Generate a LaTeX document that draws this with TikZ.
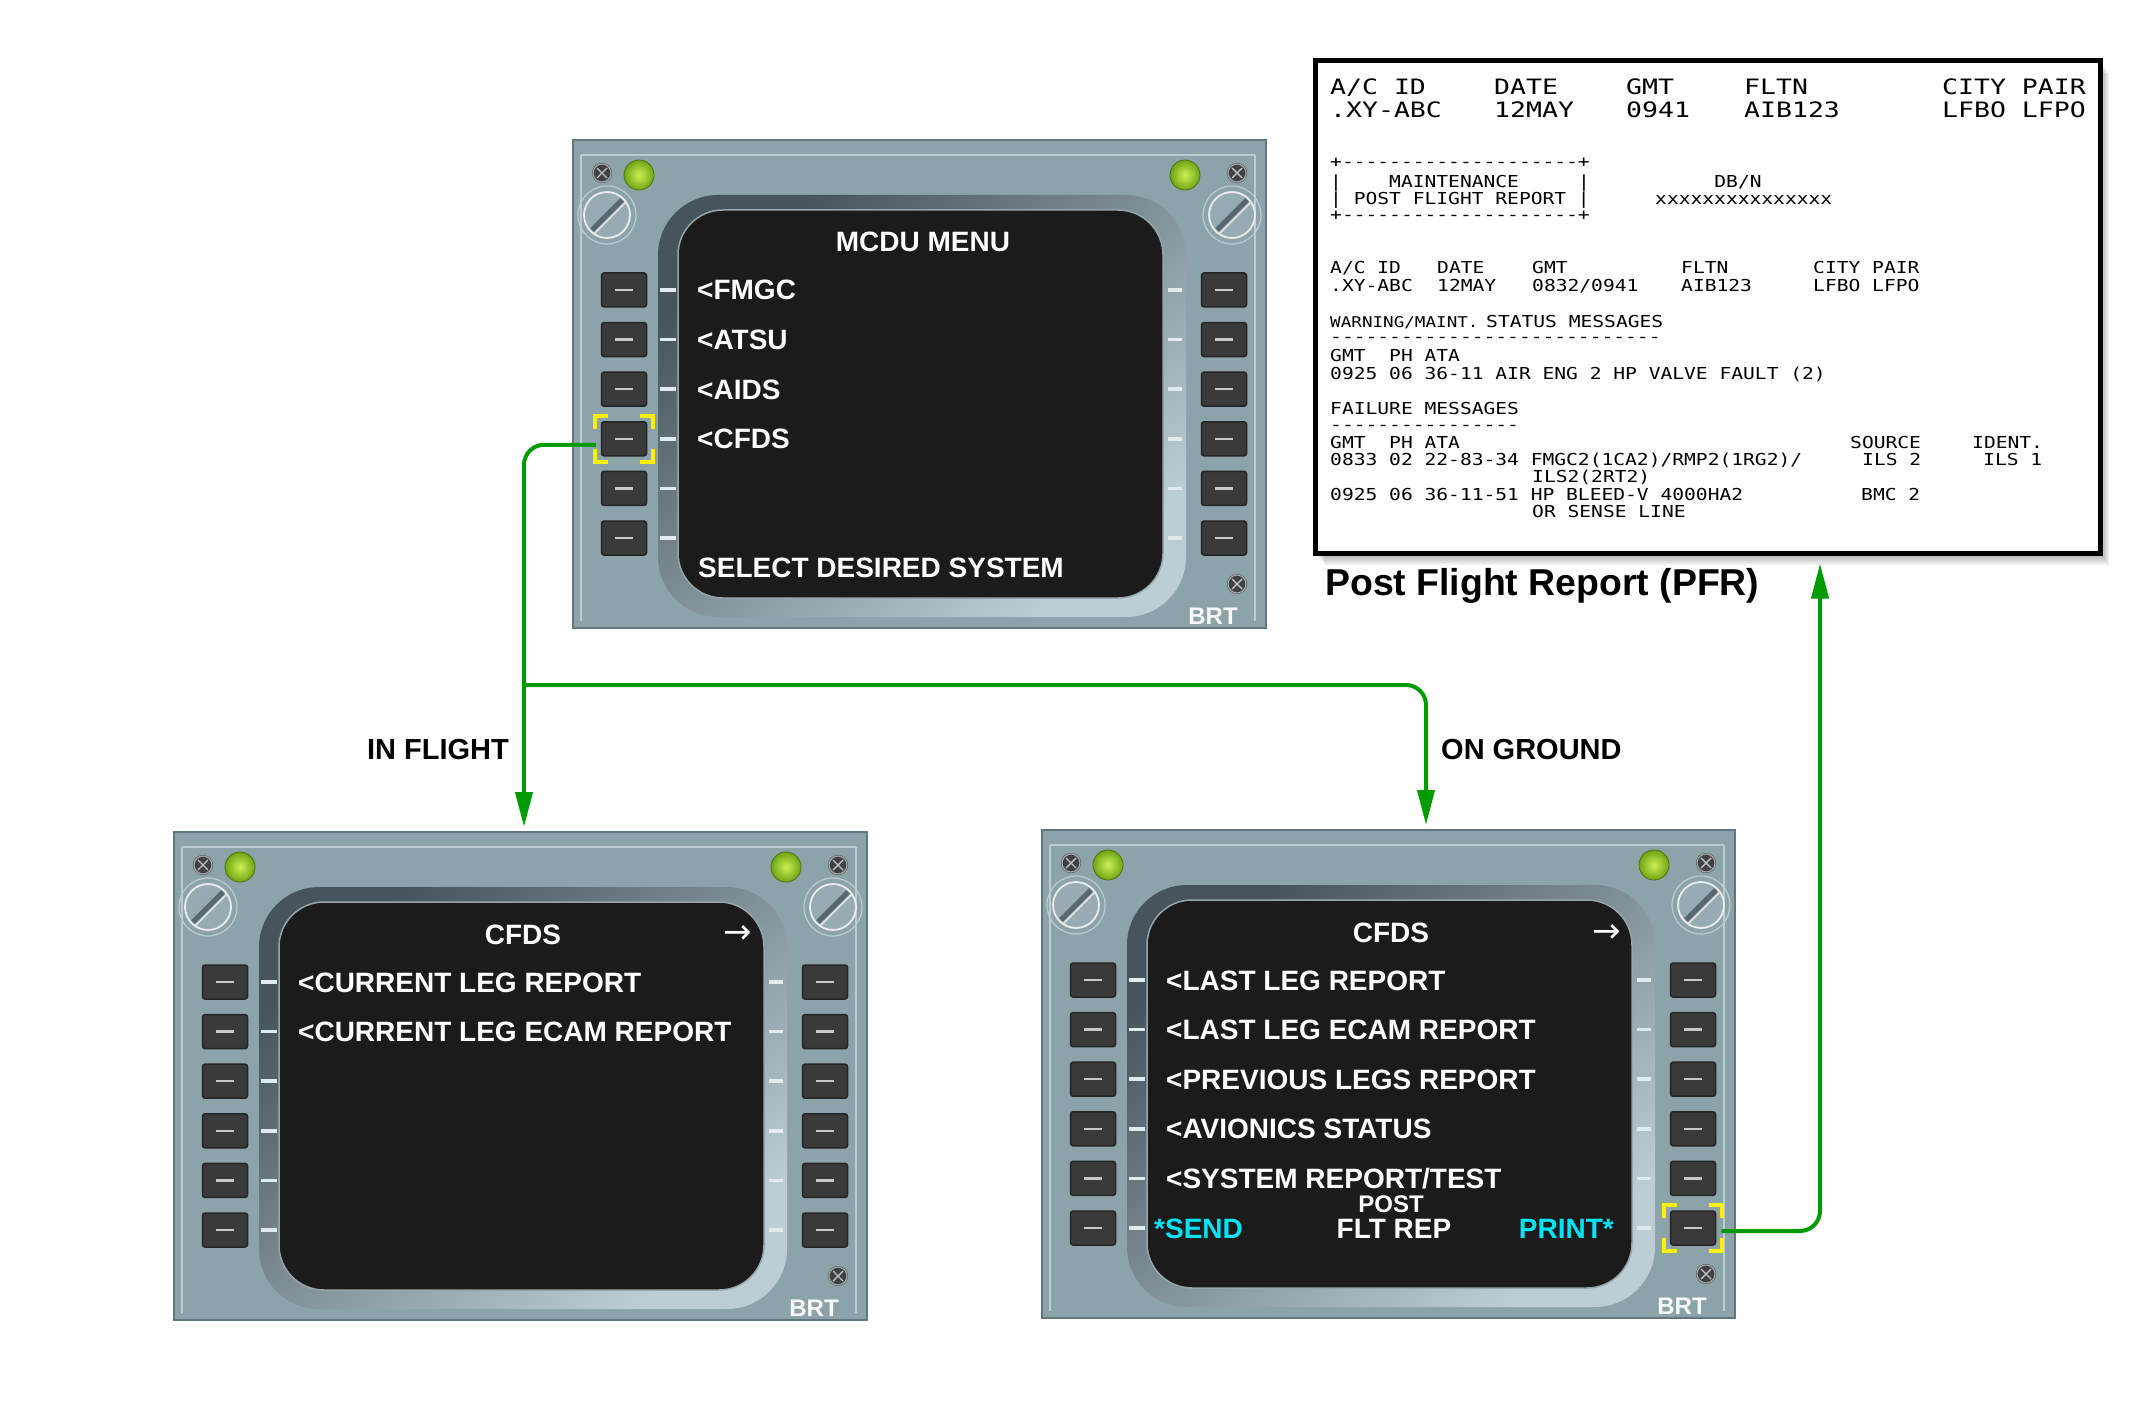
\documentclass[tikz,border=0pt]{standalone}
\usepackage{fontspec}
\setmainfont{Liberation Sans}
\newfontfamily\prt{DejaVu Sans Mono}[Ligatures=TeXOff]
\newfontfamily\djv{DejaVu Sans}
\usetikzlibrary{arrows.meta,calc}
\definecolor{panelc}{RGB}{140,163,170}
\definecolor{panedge}{RGB}{98,118,125}
\definecolor{hl}{RGB}{188,205,210}
\definecolor{bezdark}{RGB}{70,84,91}
\definecolor{bezlight}{RGB}{188,206,212}
\definecolor{scrn}{RGB}{27,27,27}
\definecolor{scrline}{RGB}{150,166,172}
\definecolor{btn}{RGB}{58,58,58}
\definecolor{btnedge}{RGB}{36,36,36}
\definecolor{dashc}{RGB}{200,200,200}
\definecolor{tickc}{RGB}{225,234,237}
\definecolor{lampin}{RGB}{205,240,85}
\definecolor{lampout}{RGB}{110,165,20}
\definecolor{cgreen}{RGB}{0,155,0}
\definecolor{ycol}{RGB}{255,240,0}
\definecolor{cyanc}{RGB}{0,228,245}
\definecolor{screwc}{RGB}{62,66,68}
\definecolor{knobc}{RGB}{150,172,178}
\definecolor{slotc}{RGB}{88,104,110}

\newcommand\pa[1]{\scalebox{1}[0.84]{#1}}
\newcommand\pb[1]{\scalebox{1}[0.8]{#1}}
\newcommand\mscrew[2]{%
  \fill[screwc] (#1,#2) circle[radius=10pt];
  \draw[draw=gray!70, line width=1.2pt] (#1,#2) circle[radius=9pt];
  \draw[draw=gray!50, line width=1.4pt] (#1-5,#2-5) -- (#1+5,#2+5) (#1-5,#2+5) -- (#1+5,#2-5);
}
\newcommand\mlamp[2]{%
  \shade[inner color=lampin, outer color=lampout] (#1,#2) circle[radius=15pt];
  \draw[draw=lampout!70!black, line width=0.8pt] (#1,#2) circle[radius=15pt];
}
\newcommand\mknob[2]{%
  \draw[draw=hl, line width=1.2pt] (#1,#2) circle[radius=29pt];
  \fill[knobc] (#1,#2) circle[radius=23pt];
  \draw[draw=white!85!gray, line width=1.8pt] (#1,#2) circle[radius=23pt];
  \draw[draw=slotc, line width=5pt] (#1-15,#2+15) -- (#1+15,#2-15);
  \draw[draw=white!80!gray, line width=1.5pt] (#1-13,#2+19) -- (#1+19,#2-13);
}
\newcommand\mcduhw[1]{%
  \node[mpanel] (#1panel) at (346.5,244) {};
  \draw[hlline] (8,15) -- (682,15) (8,15) -- (8,481) (682,15) -- (682,481);
  \mscrew{29}{33}\mscrew{664}{33}\mscrew{664}{444}
  \mlamp{66}{35}\mlamp{612}{35}
  \mknob{34}{75}\mknob{659}{75}
  \shade[bezel] (85,55) rectangle (613,477);
  \path[scrnbox] (105,70) rectangle (590,458);
  \foreach \i in {1,...,6}{%
    \pgfmathsetmacro\yy{150+49.6*(\i-1)}
    \node[lsk] (#1L\i) at (51,\yy) {};
    \node[lsk] (#1R\i) at (651,\yy) {};
    \draw[lskdash] (42,\yy) -- (60,\yy);
    \draw[lskdash] (642,\yy) -- (660,\yy);
    \draw[tickm] (87,\yy) -- (103,\yy);
    \draw[tickm] (595,\yy) -- (609,\yy);
  }
  \node[brt] (#1brt) at (640,484) {BRT};
}
\newcommand\ybracket[1]{%
  \path (#1.north west) ++(-6,-5) coordinate (bTL);
  \path (#1.north east) ++(6,-5) coordinate (bTR);
  \path (#1.south west) ++(-6,5) coordinate (bBL);
  \path (#1.south east) ++(6,5) coordinate (bBR);
  \draw[ybr] ($(bTL)+(0,13)$) -- (bTL) -- ($(bTL)+(13,0)$);
  \draw[ybr] ($(bTR)+(0,13)$) -- (bTR) -- ($(bTR)+(-13,0)$);
  \draw[ybr] ($(bBL)+(0,-13)$) -- (bBL) -- ($(bBL)+(13,0)$);
  \draw[ybr] ($(bBR)+(0,-13)$) -- (bBR) -- ($(bBR)+(-13,0)$);
}

\begin{document}
\begin{tikzpicture}[x=1pt,y=-1pt,
  mpanel/.style={draw=panedge, line width=2pt, fill=panelc, minimum width=693pt, minimum height=488pt, inner sep=0pt},
  hlline/.style={draw=hl, line width=1.2pt},
  bezel/.style={rounded corners=60pt, top color=bezdark, bottom color=bezlight, shading angle=40},
  scrnbox/.style={fill=scrn, draw=scrline, line width=1.5pt, rounded corners=45pt},
  lsk/.style={draw=btnedge, fill=btn, line width=1.5pt, minimum width=45pt, minimum height=34pt, inner sep=0pt, rounded corners=2.5pt},
  lskdash/.style={draw=dashc, line width=2.5pt},
  tickm/.style={draw=tickc, line width=3.5pt},
  wire/.style={draw=cgreen, line width=4pt},
  tip/.style={-{Triangle[length=35pt,width=17pt]}},
  ybr/.style={draw=ycol, line width=4pt},
  scr/.style={font=\fontsize{28}{30}\selectfont\bfseries, text=white, inner sep=0pt},
  scrl/.style={scr, anchor=base west},
  brt/.style={font=\fontsize{24}{25}\selectfont\bfseries, text=white!95!gray, anchor=base, inner sep=0pt},
  arr/.style={font=\fontsize{34}{34}\djv, text=white, inner sep=0pt},
  prs/.style={font=\fontsize{19.6}{21}\prt, anchor=base west, inner sep=0pt},
  prc/.style={font=\fontsize{17.6}{19}\prt, anchor=base west, inner sep=0pt},
  prb/.style={font=\fontsize{26.5}{28}\prt, anchor=base west, inner sep=0pt},
  lbl/.style={font=\fontsize{29}{31}\selectfont\bfseries, inner sep=0pt},
  ttl/.style={font=\fontsize{37.4}{40}\selectfont\bfseries, inner sep=0pt, anchor=base west},
  pfrbox/.style={draw=black, line width=5pt, fill=white, minimum width=785pt, minimum height=492pt, inner sep=0pt}
]
\useasboundingbox (0,0) rectangle (2134,1423);
\fill[white] (0,0) rectangle (2134,1423);

% ---------- PFR printout ----------
\foreach \k in {1,...,6}{\fill[black,opacity=0.06] (1315+1.5*\k,61+2*\k) rectangle (2100+1.5*\k,553+2*\k);}
\node[pfrbox] (pfr) at (1707.5,307) {};
\node[prb] (h1) at (1330,95) {\pb{A/C ID}};
\node[prb] (h2) at (1494,95) {\pb{DATE}};
\node[prb] (h3) at (1626,95) {\pb{GMT}};
\node[prb] (h4) at (1744,95) {\pb{FLTN}};
\node[prb] (h5) at (1942,95) {\pb{CITY PAIR}};
\node[prb] (h6) at (1330,118) {\pb{.XY-ABC}};
\node[prb] (h7) at (1494,118) {\pb{12MAY}};
\node[prb] (h8) at (1626,118) {\pb{0941}};
\node[prb] (h9) at (1744,118) {\pb{AIB123}};
\node[prb] (h10) at (1942,118) {\pb{LFBO LFPO}};

\node[prs] (b1) at (1330,168) {\pa{+--------------------+}};
\node[prs] (b2) at (1330,188) {\pa{|~~~~MAINTENANCE~~~~~|}};
\node[prs] (b3) at (1330,205) {\pa{|~POST FLIGHT REPORT~|}};
\node[prs] (b4) at (1330,221) {\pa{+--------------------+}};
\node[prs, anchor=base] (b5) at (1738,188) {\pa{DB/N}};
\node[prs] (b6) at (1655,205) {\pa{xxxxxxxxxxxxxxx}};

\node[prs] (c1) at (1330,274) {\pa{A/C ID}};
\node[prs] (c2) at (1437,274) {\pa{DATE}};
\node[prs] (c3) at (1532,274) {\pa{GMT}};
\node[prs] (c4) at (1681,274) {\pa{FLTN}};
\node[prs] (c5) at (1813,274) {\pa{CITY PAIR}};
\node[prs] (c6) at (1330,292) {\pa{.XY-ABC}};
\node[prs] (c7) at (1437,292) {\pa{12MAY}};
\node[prs] (c8) at (1532,292) {\pa{0832/0941}};
\node[prs] (c9) at (1681,292) {\pa{AIB123}};
\node[prs] (c10) at (1813,292) {\pa{LFBO LFPO}};

\node[prc] (d1) at (1330,327) {\pa{WARNING/MAINT.}};
\node[prs] (d2) at (1486,327) {\pa{STATUS MESSAGES}};
\node[prs] (d3) at (1330,342) {\pa{----------------------------}};
\node[prs] (e1) at (1330,361) {\pa{GMT~~PH~ATA}};
\node[prs] (e2) at (1330,379) {\pa{0925 06 36-11 AIR ENG 2 HP VALVE FAULT (2)}};
\node[prs] (f1) at (1330,414) {\pa{FAILURE MESSAGES}};
\node[prs] (f2) at (1330,430) {\pa{----------------}};
\node[prs] (g1) at (1330,448) {\pa{GMT~~PH~ATA}};
\node[prs] (g2) at (1850,448) {\pa{SOURCE}};
\node[prs] (g3) at (1972,448) {\pa{IDENT.}};
\node[prs] (g4) at (1330,465) {\pa{0833 02 22-83-34 FMGC2(1CA2)/RMP2(1RG2)/}};
\node[prs] (g5) at (1862,465) {\pa{ILS 2}};
\node[prs] (g6) at (1983,465) {\pa{ILS 1}};
\node[prs] (g7) at (1532,482) {\pa{ILS2(2RT2)}};
\node[prs] (g8) at (1330,500) {\pa{0925 06 36-11-51 HP BLEED-V 4000HA2}};
\node[prs] (g9) at (1861,500) {\pa{BMC 2}};
\node[prs] (g10) at (1532,517) {\pa{OR SENSE LINE}};

\node[ttl] (pfrtitle) at (1325,595) {Post Flight Report (PFR)};

% ---------- MCDU MENU ----------
\begin{scope}[shift={(573,140)}]
  \mcduhw{top}
  \node[scr, anchor=base] (topT) at (350,112) {MCDU MENU};
  \node[scrl] (top1) at (124,160) {<FMGC};
  \node[scrl] (top2) at (124,209.6) {<ATSU};
  \node[scrl] (top3) at (124,259.2) {<AIDS};
  \node[scrl] (top4) at (124,308.8) {<CFDS};
  \node[scrl] (top7) at (125,437) {SELECT DESIRED SYSTEM};
\end{scope}

% ---------- CFDS in flight ----------
\begin{scope}[shift={(174,832)}]
  \mcduhw{bl}
  \node[scr, anchor=base] (blT) at (349,112) {CFDS};
  \node[arr] (blA) at (564,103) {→};
  \node[scrl] (bl1) at (124,160) {<CURRENT LEG REPORT};
  \node[scrl] (bl2) at (124,209.6) {<CURRENT LEG ECAM REPORT};
\end{scope}

% ---------- CFDS on ground ----------
\begin{scope}[shift={(1042,830)}]
  \mcduhw{br}
  \node[scr, anchor=base] (brT) at (349,112) {CFDS};
  \node[arr] (brA) at (565,104) {→};
  \node[scrl] (br1) at (124,160) {<LAST LEG REPORT};
  \node[scrl] (br2) at (124,209.6) {<LAST LEG ECAM REPORT};
  \node[scrl] (br3) at (124,259.2) {<PREVIOUS LEGS REPORT};
  \node[scrl] (br4) at (124,308.8) {<AVIONICS STATUS};
  \node[scrl] (br5) at (124,358.4) {<SYSTEM REPORT/TEST};
  \node[scrl, text=cyanc] (brSend) at (112,408) {*SEND};
  \node[scr, anchor=base east, text=cyanc] (brPrint) at (572,408) {PRINT*};
  \node[scr, anchor=base, font=\fontsize{24}{26}\selectfont\bfseries] (brPost) at (349,382) {POST};
  \node[scr, anchor=base] (brFlt) at (352,408) {FLT REP};
\end{scope}

\ybracket{topL4}
\ybracket{brR6}

% ---------- connectors ----------
\coordinate (j) at (524,685);
\draw[wire, rounded corners=20pt] ([xshift=-5pt,yshift=-6pt]topL4.west) -| (j);
\draw[wire, tip, shorten >=4pt] (j) -- (j |- blpanel.north);
\draw[wire, tip, rounded corners=20pt, shorten >=4pt] (j) -| ([xshift=37.5pt]brpanel.north);
\draw[wire, tip, rounded corners=20pt, shorten >=8pt] ([xshift=5pt,yshift=-3pt]brR6.east) -| ([xshift=112.5pt]pfr.south);

\node[lbl, anchor=base east] (inflight) at (509,759.5) {IN FLIGHT};
\node[lbl, anchor=base west] (onground) at (1441,759.5) {ON GROUND};
\end{tikzpicture}
\end{document}
